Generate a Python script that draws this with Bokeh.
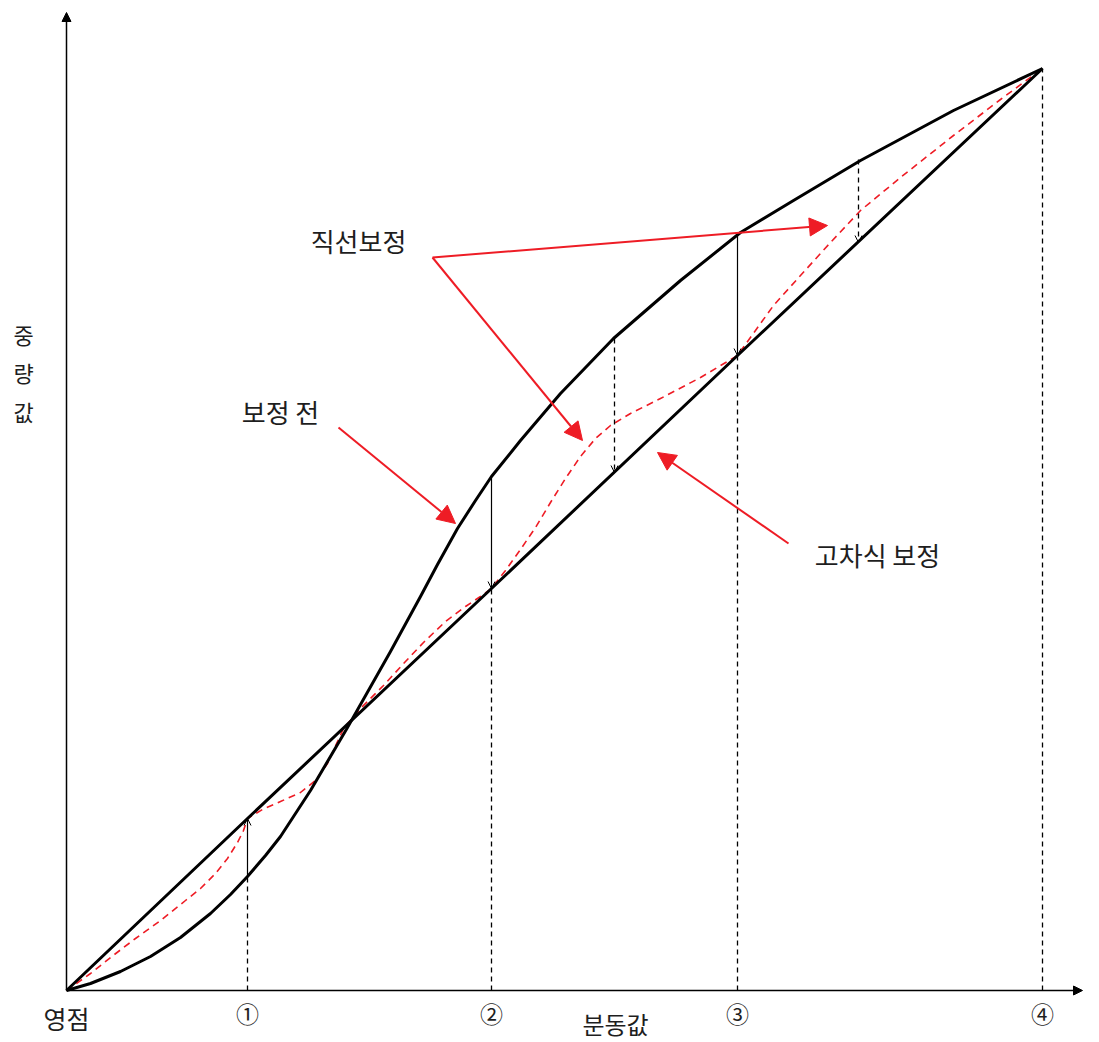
from bokeh.plotting import figure
from bokeh.models import Range1d, Arrow, NormalHead, OpenHead
from bokeh.core.properties import value
from bokeh.embed import file_html
from bokeh.resources import INLINE

# ---- data (units: x = distance right of origin, y = distance above origin) ----
tick_x = [181, 425, 671, 976]
tick_labels = ["①", "②", "③", "④"]

# ideal straight line (calibration line)
line_x = [0, 181, 425, 671, 976]
line_y = [0, 172, 402, 635, 922]

# before correction (S-shaped)
raw_x = [0, 24, 54, 84, 114, 144, 164, 181, 199, 214, 244, 281, 324, 354,
         371, 391, 409, 425, 454, 494, 547, 614, 674, 727, 794, 887, 976]
raw_y = [0, 7, 19, 34, 53, 77, 96, 114, 135, 154, 200, 263, 339, 394,
         426, 462, 490, 514, 550, 597, 652, 710, 758, 790, 830, 880, 922]

# high-order correction (red dashed)
poly_x = [0, 24, 44, 69, 94, 119, 134, 149, 161, 171, 177, 181, 196, 214,
          234, 249, 261, 277, 294, 317, 339, 357, 379, 399, 414, 425, 439,
          454, 469, 484, 499, 514, 529, 544, 564, 594, 634, 671, 689, 707,
          734, 764, 794, 834, 887, 934, 976]
poly_y = [0, 17, 33, 52, 70, 90, 102, 117, 132, 148, 160, 172, 181, 189,
          198, 210, 227, 262, 282, 305, 329, 348, 369, 384, 394, 402, 420,
          441, 463, 488, 512, 534, 552, 565, 577, 592, 613, 635, 660, 685,
          715, 748, 780, 813, 855, 891, 922]

# correction arrows at calibration points (x, from, to)
corr_x = [181, 425, 671]
corr_from = [114, 514, 755]
corr_to = [172, 402, 635]
# dashed correction arrows between points
mid_x = [548, 792]
mid_from = [652, 831]
mid_to = [518, 748]

# annotations
ann_text = ["직선보정", "보정 전", "고차식 보정"]
ann_tx = [292, 214, 811]
ann_ty = [750, 579, 436]
red_start_x = [366, 366, 272, 722]
red_start_y = [733, 733, 563, 447]
red_end_x = [761, 516, 389, 591]
red_end_y = [765, 550, 467, 538]

FONT = value("Noto Sans CJK KR")
TXT = "#1e1e1e"
RED = "#ee1c25"

p = figure(width=1083, height=1040, output_backend="svg", toolbar_location=None,
           x_range=Range1d(-66, 1017), y_range=Range1d(-50, 990),
           x_axis_location=None, y_axis_location=None, min_border=0)
p.grid.visible = False
p.outline_line_color = None
p.background_fill_color = "white"
p.border_fill_color = "white"

# axes with arrows
p.add_layout(Arrow(x_start=0, y_start=0, x_end=0, y_end=978, line_width=1.5,
                   line_color="black",
                   end=NormalHead(size=9, fill_color="black", line_color="black")))
p.add_layout(Arrow(x_start=0, y_start=0, x_end=1016, y_end=0, line_width=1.5,
                   line_color="black",
                   end=NormalHead(size=9, fill_color="black", line_color="black")))

# dashed drop lines from axis
drop_top = [min(a, b) for a, b in zip(corr_from, corr_to)] + [922]
p.segment(x0=tick_x, y0=[0, 0, 0, 0], x1=tick_x, y1=drop_top,
          line_color="black", line_width=1.3, line_dash="5 4")

# red dashed high-order curve
p.line(poly_x, poly_y, line_color=RED, line_width=1.6, line_dash="7 5",
       line_join="round")

# black curves
p.line(line_x, line_y, line_color="black", line_width=3, line_join="round")
p.line(raw_x, raw_y, line_color="black", line_width=3, line_join="round")

# correction arrows
for x, a, b in zip(corr_x, corr_from, corr_to):
    p.add_layout(Arrow(x_start=x, y_start=a, x_end=x, y_end=b, line_width=1.2,
                       line_color="black",
                       end=OpenHead(size=7, line_width=1, line_color="black")))
for x, a, b in zip(mid_x, mid_from, mid_to):
    p.add_layout(Arrow(x_start=x, y_start=a, x_end=x, y_end=b, line_width=1.3,
                       line_color="black", line_dash="5 4",
                       end=OpenHead(size=7, line_width=1, line_color="black")))

# red annotation arrows
for xs, ys, xe, ye in zip(red_start_x, red_start_y, red_end_x, red_end_y):
    p.add_layout(Arrow(x_start=xs, y_start=ys, x_end=xe, y_end=ye, line_width=2,
                       line_color=RED,
                       end=NormalHead(size=18, fill_color=RED, line_color=RED)))

p.text(x=ann_tx, y=ann_ty, text=ann_text, text_font=FONT, text_font_size="26px",
       text_color=TXT, text_align="center", text_baseline="middle")

# axis labels
p.text(x=tick_x, y=[-22] * 4, text=tick_labels, text_font=FONT,
       text_font_size="23px", text_color=TXT, text_align="center",
       text_baseline="middle")
p.text(x=[0], y=[-27], text=["영점"], text_font=FONT, text_font_size="25px",
       text_color=TXT, text_align="center", text_baseline="middle")
p.text(x=[549], y=[-33], text=["분동값"], text_font=FONT, text_font_size="24px",
       text_color=TXT, text_align="center", text_baseline="middle")
p.text(x=[-43], y=[618], text=["중\n량\n값"], text_font=FONT,
       text_font_size="22px", text_color=TXT, text_align="center",
       text_baseline="middle", text_line_height=1.2)

open("out.html", "w").write(file_html(p, INLINE))
